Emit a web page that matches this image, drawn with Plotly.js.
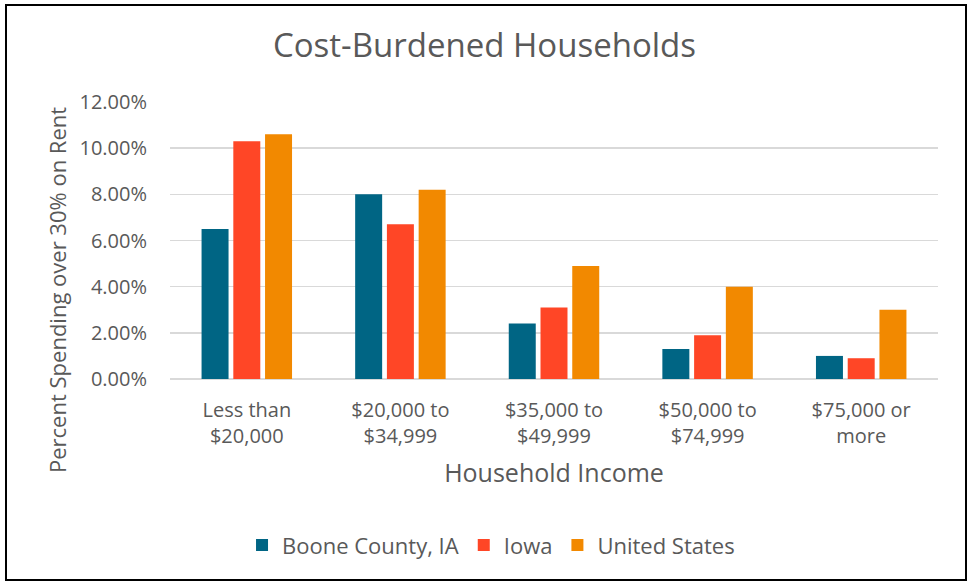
<!DOCTYPE html>
<html>
<head>
<meta charset="utf-8">
<script src="https://cdn.plot.ly/plotly-3.0.1.min.js"></script>
<style>
  html, body { margin: 0; padding: 0; background: #fff; }
  #wrap { position: relative; width: 969px; height: 586px; }
  #chart { width: 969px; height: 586px; }
  #frame { position: absolute; left: 5px; top: 4px; width: 958px; height: 573px; border: 2px solid #000; pointer-events: none; }
</style>
</head>
<body>
<div id="wrap">
  <div id="chart"></div>
  <div id="frame"></div>
</div>
<script>
const categories = ["Less than<br>$20,000", "$20,000 to<br>$34,999", "$35,000 to<br>$49,999", "$50,000 to<br>$74,999", "$75,000 or<br>more"];
const booneCounty = [0.065, 0.080, 0.024, 0.013, 0.010];
const iowa = [0.103, 0.067, 0.031, 0.019, 0.009];
const unitedStates = [0.106, 0.082, 0.049, 0.040, 0.030];
const seriesNames = ["Boone County, IA", "Iowa", "United States"];
const yTicks = [0, 0.02, 0.04, 0.06, 0.08, 0.10, 0.12];
const chartTitle = "Cost-Burdened Households";
const xTitle = "Household Income";
const yTitle = "Percent Spending over 30% on Rent";

const colors = ["#006584", "#FF4626", "#F28900"];
const fontFam = "'Open Sans', Lato, sans-serif";
const textColor = "#595959";

const data = [booneCounty, iowa, unitedStates].map((vals, i) => ({
  type: "bar",
  x: categories,
  y: vals,
  name: seriesNames[i],
  marker: { color: colors[i], line: { width: 0 } },
  hoverinfo: "none"
}));

const layout = {
  width: 969,
  height: 586,
  paper_bgcolor: "#fff",
  plot_bgcolor: "#fff",
  margin: { l: 170, r: 31, t: 102, b: 207 },
  font: { family: fontFam, color: textColor, size: 20 },
  title: { text: chartTitle, x: 0.5, xanchor: "center", y: 0.923, yanchor: "middle", font: { size: 33, color: textColor, family: fontFam } },
  barmode: "group",
  bargap: 0.38,
  bargroupgap: 0.15,
  xaxis: {
    type: "category",
    showgrid: false,
    showline: false,
    zeroline: false,
    ticks: "outside",
    ticklen: 13,
    tickcolor: "rgba(0,0,0,0)",
    tickfont: { size: 20, color: textColor },
    title: { text: xTitle, font: { size: 25, color: textColor }, standoff: 16 }
  },
  yaxis: {
    range: [0, 0.12],
    tickvals: yTicks,
    tickformat: ".2%",
    showgrid: true,
    gridcolor: "#D9D9D9",
    gridwidth: 1.5,
    zeroline: true,
    zerolinecolor: "#D9D9D9",
    zerolinewidth: 1.5,
    showline: false,
    ticks: "outside",
    ticklen: 18,
    tickcolor: "rgba(0,0,0,0)",
    tickfont: { size: 20, color: textColor }
  },
  annotations: [{
    text: yTitle,
    textangle: -90,
    xref: "paper", yref: "paper",
    x: (57 - 170) / 768, xanchor: "center",
    y: (379 - 290) / 277, yanchor: "middle",
    showarrow: false,
    font: { size: 22, color: textColor, family: fontFam }
  }],
  legend: {
    orientation: "h",
    x: 0.418, xanchor: "center",
    y: -0.6, yanchor: "middle",
    font: { size: 22, color: textColor },
    itemwidth: 30,
    traceorder: "normal"
  },
  showlegend: true
};

Plotly.newPlot("chart", data, layout, { displayModeBar: false, staticPlot: true });
</script>
</body>
</html>
